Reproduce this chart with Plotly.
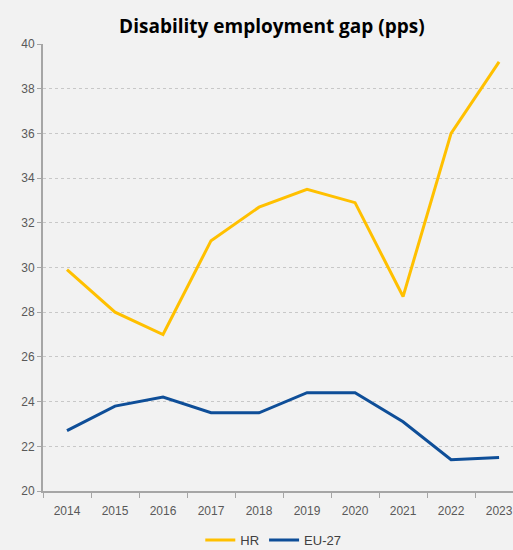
import plotly.graph_objects as go

# data
YEARS = ["2014", "2015", "2016", "2017", "2018", "2019", "2020", "2021", "2022", "2023"]
HR_GAP = [29.9, 28.0, 27.0, 31.2, 32.7, 33.5, 32.9, 28.7, 36.0, 39.2]
EU27_GAP = [22.7, 23.8, 24.2, 23.5, 23.5, 24.4, 24.4, 23.1, 21.4, 21.5]

BG = "#f2f2f2"
AXIS_GREY = "#a6a6a6"

figure = go.Figure()
figure.add_trace(go.Scatter(
    x=YEARS, y=HR_GAP, name="HR", mode="lines",
    line={"color": "#ffc000", "width": 3},
))
figure.add_trace(go.Scatter(
    x=YEARS, y=EU27_GAP, name="EU-27", mode="lines",
    line={"color": "#0e4e98", "width": 3},
))

figure.update_layout(
    width=513,
    height=550,
    autosize=False,
    paper_bgcolor=BG,
    plot_bgcolor=BG,
    margin={"l": 43, "r": 0, "t": 44, "b": 59, "autoexpand": False},
    font={"family": "Liberation Sans, Arial, sans-serif", "color": "#595959", "size": 12},
    title={
        "text": "<b>Disability employment gap (pps)</b>",
        "x": 0.53, "xanchor": "center", "y": 0.953, "yanchor": "middle",
        "font": {"family": "Open Sans, sans-serif", "size": 19, "color": "#000000"},
    },
    legend={
        "orientation": "h", "x": 0.49, "xanchor": "center",
        "yref": "container", "y": 0.018, "yanchor": "middle",
        "font": {"size": 13, "color": "#404040"},
        "bgcolor": "rgba(0,0,0,0)",
        "itemwidth": 30,
    },
    showlegend=True,
)
figure.update_xaxes(
    type="category",
    range=[-0.5, 9.29],
    tickson="boundaries",
    ticks="outside", ticklen=5, tickcolor=AXIS_GREY,
    ticklabelstandoff=8,
    showline=True, linecolor=AXIS_GREY, linewidth=2,
    showgrid=False, zeroline=False,
)
figure.update_yaxes(
    range=[20, 40],
    dtick=2,
    ticks="outside", ticklen=4, tickcolor=AXIS_GREY,
    showline=True, linecolor=AXIS_GREY, linewidth=2,
    showgrid=True, gridcolor="#c8c8c8", griddash="dot", gridwidth=1,
    zeroline=False,
)

# drop the page's default body margin so the chart sits flush in the window
figure.write_html(
    "out.html",
    config={"displayModeBar": False},
    post_script="document.body.style.margin='0';document.body.style.overflow='hidden';",
)
